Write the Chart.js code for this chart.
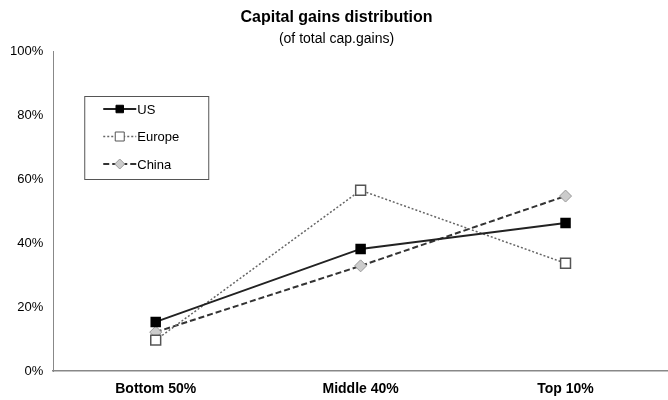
<!DOCTYPE html>
<html>
<head>
<meta charset="utf-8">
<script src="https://cdn.jsdelivr.net/npm/chart.js@4"></script>
<style>
  html, body { margin: 0; padding: 0; background: #fff; overflow: hidden; }
  #chart { display: block; }
</style>
</head>
<body>
<canvas id="chart" width="668" height="400"></canvas>
<script>
const groups = ["Bottom 50%", "Middle 40%", "Top 10%"];
const us = [15.4, 38.2, 46.3];
const europe = [9.7, 56.5, 33.7];
const china = [12.2, 32.9, 54.7];
const yTicks = [0, 20, 40, 60, 80, 100];

const FONT = "'Liberation Sans', Arial, sans-serif";

// legend box drawn inside the plot, like the original
const boxLegend = {
  id: "boxLegend",
  afterDraw(chart) {
    const ctx = chart.ctx;
    const a = chart.chartArea;
    const x0 = a.left + 31, y0 = a.top + 45, w = 124, h = 83;
    ctx.save();
    ctx.strokeStyle = "#555";
    ctx.lineWidth = 1;
    ctx.strokeRect(x0 + 0.5, y0 + 0.5, w, h);
    chart.data.datasets.forEach((ds, i) => {
      const y = y0 + 13 + i * 27.5;
      const lx1 = x0 + 19, lx2 = x0 + 52, mx = (lx1 + lx2) / 2;
      ctx.beginPath();
      ctx.setLineDash(ds.borderDash || []);
      ctx.strokeStyle = ds.borderColor;
      ctx.lineWidth = ds.borderWidth;
      ctx.moveTo(lx1, y);
      ctx.lineTo(lx2, y);
      ctx.stroke();
      ctx.setLineDash([]);
      ctx.fillStyle = ds.pointBackgroundColor;
      ctx.strokeStyle = ds.pointBorderColor;
      ctx.lineWidth = 1;
      const r = ds.pointRadius - 1;
      ctx.beginPath();
      if (ds.pointStyle === "rectRot") {
        ctx.moveTo(mx, y - r); ctx.lineTo(mx + r, y);
        ctx.lineTo(mx, y + r); ctx.lineTo(mx - r, y);
        ctx.closePath();
      } else {
        ctx.rect(mx - r * 0.75, y - r * 0.75, r * 1.5, r * 1.5);
      }
      ctx.fill();
      ctx.stroke();
      ctx.fillStyle = "#000";
      ctx.font = "13px " + FONT;
      ctx.textBaseline = "middle";
      ctx.fillText(ds.label, lx2 + 1, y + 1);
    });
    ctx.restore();
  }
};

new Chart(document.getElementById("chart"), {
  type: "line",
  data: {
    labels: groups,
    datasets: [
      {
        label: "US",
        data: us,
        borderColor: "#222",
        borderWidth: 2,
        pointStyle: "rect",
        pointRadius: 6,
        pointBackgroundColor: "#000",
        pointBorderColor: "#000",
        tension: 0,
      },
      {
        label: "Europe",
        data: europe,
        borderColor: "#666",
        borderWidth: 1.5,
        borderDash: [2, 2],
        pointStyle: "rect",
        pointRadius: 7,
        pointBackgroundColor: "#fff",
        pointBorderColor: "#555",
        pointBorderWidth: 1.5,
        tension: 0,
      },
      {
        label: "China",
        data: china,
        borderColor: "#333",
        borderWidth: 2,
        borderDash: [6, 3],
        pointStyle: "rectRot",
        pointRadius: 6,
        pointBackgroundColor: "#ccc",
        pointBorderColor: "#999",
        pointBorderWidth: 1,
        tension: 0,
      },
    ],
  },
  options: {
    responsive: false,
    animation: false,
    layout: {
      autoPadding: false,
      padding: { left: 0, right: -5, top: 0, bottom: -8 },
    },
    plugins: {
      legend: { display: false },
      tooltip: { enabled: false },
      title: {
        display: true,
        text: "Capital gains distribution",
        color: "#000",
        font: { family: FONT, size: 16, weight: "bold" },
        padding: { top: 8, bottom: 4 },
      },
      subtitle: {
        display: true,
        text: "(of total cap.gains)",
        color: "#000",
        font: { family: FONT, size: 14 },
        padding: { top: 0, bottom: 3 },
      },
    },
    scales: {
      x: {
        offset: true,
        grid: { display: false, drawTicks: false },
        border: { color: "#888", width: 1.5 },
        ticks: {
          color: "#000",
          font: { family: FONT, size: 14, weight: "bold" },
          padding: 10,
        },
        // the axis runs off the right edge in the original
        afterFit(scale) {
          scale.paddingRight = -5;
        },
      },
      y: {
        min: 0,
        max: 100,
        afterBuildTicks(scale) {
          scale.ticks = yTicks.map(v => ({ value: v }));
        },
        grid: { display: false, drawTicks: false },
        border: { color: "#888", width: 1 },
        ticks: {
          color: "#000",
          font: { family: FONT, size: 13 },
          padding: 10,
          callback: v => v + "%",
        },
      },
    },
  },
  plugins: [boxLegend],
});
</script>
</body>
</html>
